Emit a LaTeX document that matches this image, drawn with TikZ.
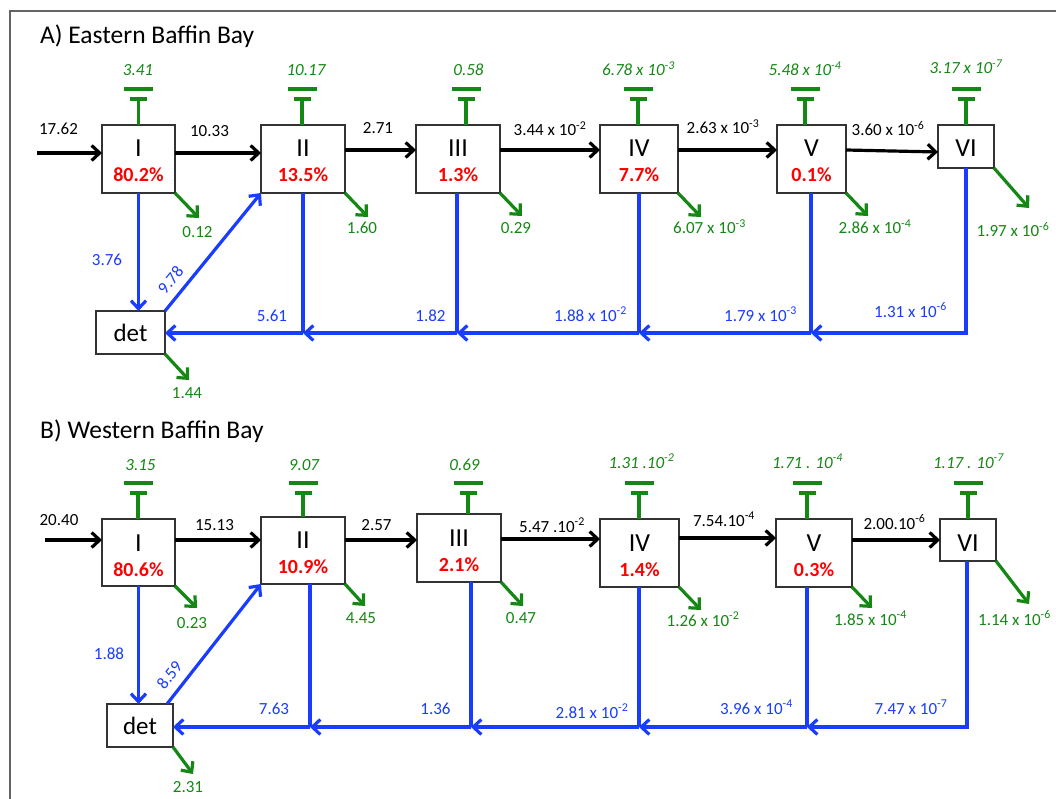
\documentclass[tikz,border=0pt]{standalone}
\usepackage{fontspec}
\setmainfont{Carlito}
\usetikzlibrary{arrows.meta}
\definecolor{gr}{RGB}{20,135,20}
\definecolor{bl}{RGB}{25,60,255}
\definecolor{rd}{RGB}{255,0,0}
\definecolor{frm}{RGB}{100,100,100}
\newcommand\sps[1]{\textsuperscript{#1}}
\newcommand\tbar[3]{%
  \draw[gline] (#1,#2) -- (#1,#3);
  \draw[gline] (#1-8.5,#3) -- (#1+8.5,#3);
  \draw[gline] (#1-14.5,#3-10) -- (#1+14.5,#3-10);}
\begin{document}
\begin{tikzpicture}[x=1pt,y=-1pt,
  box/.style={draw=black!80, line width=1.3pt, fill=white, inner sep=0pt, outer sep=0pt},
  rom/.style={font=\fontsize{26}{26}\selectfont, anchor=base, inner sep=0pt},
  pct/.style={font=\fontsize{20}{20}\selectfont\bfseries, text=rd, anchor=base, inner sep=0pt},
  num/.style={font=\fontsize{17}{17}\selectfont, anchor=base, inner sep=0pt},
  gnum/.style={num, text=gr},
  gtop/.style={num, text=gr, font=\fontsize{17}{17}\selectfont\itshape},
  bnum/.style={num, text=bl},
  ttl/.style={font=\fontsize{25.5}{26}\selectfont, anchor=base west, inner sep=0pt},
  flow/.style={line width=3.2pt, -{Straight Barb[length=8pt,width=15pt]}},
  gflow/.style={flow, draw=gr},
  bflow/.style={flow, draw=bl},
  bline/.style={line width=3.2pt, draw=bl},
  gline/.style={line width=3.2pt, draw=gr},
  detbox/.style={box, font=\fontsize{25}{25}\selectfont}
]
\useasboundingbox (0,0) rectangle (1056,799);
\clip (0,0) rectangle (1056,799);
\draw[frm, line width=1.5pt] (10,11) rectangle (1070,815);

% ================= Panel A =================
\node[ttl] (titA) at (40,44) {A) Eastern Baffin Bay};

\node[box, minimum width=73pt, minimum height=68pt] (AI) at (138.5,159) {};
\node[box, minimum width=84pt, minimum height=68pt] (AII) at (303,159) {};
\node[box, minimum width=84pt, minimum height=68pt] (AIII) at (458,159) {};
\node[box, minimum width=78pt, minimum height=68pt] (AIV) at (639,159) {};
\node[box, minimum width=69pt, minimum height=68pt] (AV) at (811.5,159) {};
\node[box, minimum width=56pt, minimum height=43pt] (AVI) at (966,146.5) {};
\node[detbox, minimum width=69pt, minimum height=43pt] (Adet) at (130.5,332.5) {det};

\node[rom] (rAI) at (138.5,157) {I};
\node[rom] (rAII) at (303,157) {II};
\node[rom] (rAIII) at (458,157) {III};
\node[rom] (rAIV) at (639,157) {IV};
\node[rom] (rAV) at (811.5,157) {V};
\node[rom] (rAVI) at (966,157) {VI};
\node[pct] (pAI) at (138.5,182) {80.2\%};
\node[pct] (pAII) at (303,182) {13.5\%};
\node[pct] (pAIII) at (458,182) {1.3\%};
\node[pct] (pAIV) at (639,182) {7.7\%};
\node[pct] (pAV) at (811.5,182) {0.1\%};

% black flows
\coordinate (Ain) at (37,153);
\draw[flow] (Ain) -- ([yshift=6pt]AI.west);
\draw[flow] ([yshift=6pt]AI.east) -- ([yshift=6pt]AII.west);
\draw[flow] ([yshift=9pt]AII.east) -- ([yshift=9pt]AIII.west);
\draw[flow] ([yshift=9pt]AIII.east) -- ([yshift=9pt]AIV.west);
\draw[flow] ([yshift=9pt]AIV.east) -- ([yshift=9pt]AV.west);
\draw[flow] ([yshift=9pt]AV.east) -- ([yshift=-5.5pt]AVI.west);
\node[num] (fA0) at (58.5,135) {17.62};
\node[num] (fA1) at (209.5,137) {10.33};
\node[num] (fA2) at (378,134) {2.71};
\node[num] (fA3) at (550,136) {3.44 x 10\sps{-2}};
\node[num] (fA4) at (723,134) {2.63 x 10\sps{-3}};
\node[num] (fA5) at (888,136) {3.60 x 10\sps{-6}};

% green tops
\tbar{138.5}{125}{99}
\tbar{302}{125}{99}
\tbar{466}{125}{99}
\tbar{638}{125}{99}
\tbar{805}{125}{99}
\tbar{966}{125}{99}
\node[gtop] (gA1) at (138,76) {3.41};
\node[gtop] (gA2) at (306,76) {10.17};
\node[gtop] (gA3) at (468.5,76) {0.58};
\node[gtop] (gA4) at (638.5,76) {6.78 x 10\sps{-3}};
\node[gtop] (gA5) at (805,76) {5.48 x 10\sps{-4}};
\node[gtop] (gA6) at (966,74) {3.17 x 10\sps{-7}};

% green losses
\draw[gflow] (AI.south east) -- ++(24,25);
\draw[gflow] (AII.south east) -- ++(23,24);
\draw[gflow] (AIII.south east) -- ++(22,23);
\draw[gflow] (AIV.south east) -- ++(23,24);
\draw[gflow] (AV.south east) -- ++(22,23);
\draw[gflow] (AVI.south east) -- ++(35,40);
\draw[gflow] (Adet.south east) -- ++(24,26);
\node[gnum] (lA1) at (197.5,238) {0.12};
\node[gnum] (lA2) at (362,234) {1.60};
\node[gnum] (lA3) at (516,234) {0.29};
\node[gnum] (lA4) at (709.5,234) {6.07 x 10\sps{-3}};
\node[gnum] (lA5) at (875,234) {2.86 x 10\sps{-4}};
\node[gnum] (lA6) at (1013,237) {1.97 x 10\sps{-6}};
\node[gnum] (lA7) at (187,398) {1.44};

% blue detritus flows
\coordinate (Aj2) at (303,333);
\coordinate (Aj3) at (457,333);
\coordinate (Aj4) at (639,333);
\coordinate (Aj5) at (811,333);
\coordinate (Aj6) at (966,333);
\draw[bflow] (AI.south) -- (AI.south |- Adet.north);
\draw[bflow] (Adet.north east) -- (AII.south west);
\draw[bline] (Aj2 |- AII.south) -- (Aj2);
\draw[bline] (Aj3 |- AIII.south) -- (Aj3);
\draw[bline] (Aj4 |- AIV.south) -- (Aj4);
\draw[bline] (Aj5 |- AV.south) -- (Aj5);
\draw[bflow] (Aj6 |- AVI.south) -- (Aj6) -- (Aj5);
\draw[bflow] (Aj5) -- (Aj4);
\draw[bflow] (Aj4) -- (Aj3);
\draw[bflow] (Aj3) -- (Aj2);
\draw[bflow] (Aj2) -- (Aj2 -| Adet.east);
\node[bnum] (bA1) at (107,266) {3.76};
\node[bnum, anchor=center, rotate=51] (bA2) at (170.5,280) {9.78};
\node[bnum] (bA3) at (272,321) {5.61};
\node[bnum] (bA4) at (430.5,321) {1.82};
\node[bnum] (bA5) at (590.5,321) {1.88 x 10\sps{-2}};
\node[bnum] (bA6) at (760.5,321) {1.79 x 10\sps{-3}};
\node[bnum] (bA7) at (910.5,317) {1.31 x 10\sps{-6}};

% ================= Panel B =================
\node[ttl] (titB) at (40,438) {B) Western Baffin Bay};

\node[box, minimum width=73pt, minimum height=67pt] (BI) at (138.5,552.5) {};
\node[box, minimum width=84pt, minimum height=67pt] (BII) at (303,550.5) {};
\node[box, minimum width=84pt, minimum height=68pt] (BIII) at (459,548) {};
\node[box, minimum width=79pt, minimum height=68pt] (BIV) at (639.5,553) {};
\node[box, minimum width=76pt, minimum height=68pt] (BV) at (814,553) {};
\node[box, minimum width=56pt, minimum height=42pt] (BVI) at (968,540) {};
\node[detbox, minimum width=66pt, minimum height=43pt] (Bdet) at (140,725.5) {det};

\node[rom] (rBI) at (138.5,551) {I};
\node[rom] (rBII) at (303,548) {II};
\node[rom] (rBIII) at (459,546) {III};
\node[rom] (rBIV) at (639.5,551) {IV};
\node[rom] (rBV) at (814,551) {V};
\node[rom] (rBVI) at (968,551) {VI};
\node[pct] (pBI) at (138.5,576) {80.6\%};
\node[pct] (pBII) at (303,573) {10.9\%};
\node[pct] (pBIII) at (459,571) {2.1\%};
\node[pct] (pBIV) at (639.5,576) {1.4\%};
\node[pct] (pBV) at (814,576) {0.3\%};

% black flows
\coordinate (Bin) at (45,540);
\draw[flow] (Bin) -- ([yshift=12.5pt]BI.west);
\draw[flow] ([yshift=12.5pt]BI.east) -- ([yshift=10.5pt]BII.west);
\draw[flow] ([yshift=10.5pt]BII.east) -- ([yshift=8pt]BIII.west);
\draw[flow] ([yshift=9pt]BIII.east) -- ([yshift=14pt]BIV.west);
\draw[flow] ([yshift=15pt]BIV.east) -- ([yshift=15pt]BV.west);
\draw[flow] ([yshift=13pt]BV.east) -- (BVI.west);
\node[num] (fB0) at (59,525) {20.40};
\node[num] (fB1) at (214.5,530) {15.13};
\node[num] (fB2) at (376.5,530) {2.57};
\node[num] (fB3) at (552,532) {5.47 .10\sps{-2}};
\node[num] (fB4) at (724,526) {7.54.10\sps{-4}};
\node[num] (fB5) at (894.5,529) {2.00.10\sps{-6}};

% green tops
\tbar{138}{519}{493}
\tbar{303}{517}{493}
\tbar{468}{514}{493}
\tbar{639}{519}{493}
\tbar{807}{519}{493}
\tbar{968}{519}{493}
\node[gtop] (gB1) at (140.5,470) {3.15};
\node[gtop] (gB2) at (304,470) {9.07};
\node[gtop] (gB3) at (464.5,470) {0.69};
\node[gtop] (gB4) at (641.5,468) {1.31 .10\sps{-2}};
\node[gtop] (gB5) at (807.5,468) {1.71 . 10\sps{-4}};
\node[gtop] (gB6) at (968.5,468) {1.17 . 10\sps{-7}};

% green losses
\draw[gflow] (BI.south east) -- ++(22,22);
\draw[gflow] (BII.south east) -- ++(20,22);
\draw[gflow] (BIII.south east) -- ++(22,24);
\draw[gflow] (BIV.south east) -- ++(22,23);
\draw[gflow] (BV.south east) -- ++(20,21);
\draw[gflow] (BVI.south east) -- ++(33,43);
\draw[gflow] (Bdet.south east) -- ++(20,27);
\node[gnum] (lB1) at (192,628) {0.23};
\node[gnum] (lB2) at (361,623) {4.45};
\node[gnum] (lB3) at (521,623) {0.47};
\node[gnum] (lB4) at (703,626) {1.26 x 10\sps{-2}};
\node[gnum] (lB5) at (870.5,625) {1.85 x 10\sps{-4}};
\node[gnum] (lB6) at (1014.5,625) {1.14 x 10\sps{-6}};
\node[gnum] (lB7) at (188,792) {2.31};

% blue detritus flows
\coordinate (Bj2) at (310,727);
\coordinate (Bj3) at (471,727);
\coordinate (Bj4) at (639,727);
\coordinate (Bj5) at (807,727);
\coordinate (Bj6) at (967,727);
\draw[bflow] (BI.south) -- (BI.south |- Bdet.north);
\draw[bflow] ([xshift=-6pt]Bdet.north east) -- (BII.south west);
\draw[bline] (Bj2 |- BII.south) -- (Bj2);
\draw[bline] (Bj3 |- BIII.south) -- (Bj3);
\draw[bline] (Bj4 |- BIV.south) -- (Bj4);
\draw[bline] (Bj5 |- BV.south) -- (Bj5);
\draw[bflow] (Bj6 |- BVI.south) -- (Bj6) -- (Bj5);
\draw[bflow] (Bj5) -- (Bj4);
\draw[bflow] (Bj4) -- (Bj3);
\draw[bflow] (Bj3) -- (Bj2);
\draw[bflow] (Bj2) -- (Bj2 -| Bdet.east);
\node[bnum] (bB1) at (109,659) {1.88};
\node[bnum, anchor=center, rotate=52] (bB2) at (169.5,675) {8.59};
\node[bnum] (bB3) at (274,714) {7.63};
\node[bnum] (bB4) at (435.5,714) {1.36};
\node[bnum] (bB5) at (592,718) {2.81 x 10\sps{-2}};
\node[bnum] (bB6) at (756.5,714) {3.96 x 10\sps{-4}};
\node[bnum] (bB7) at (911,714) {7.47 x 10\sps{-7}};
\end{tikzpicture}
\end{document}
